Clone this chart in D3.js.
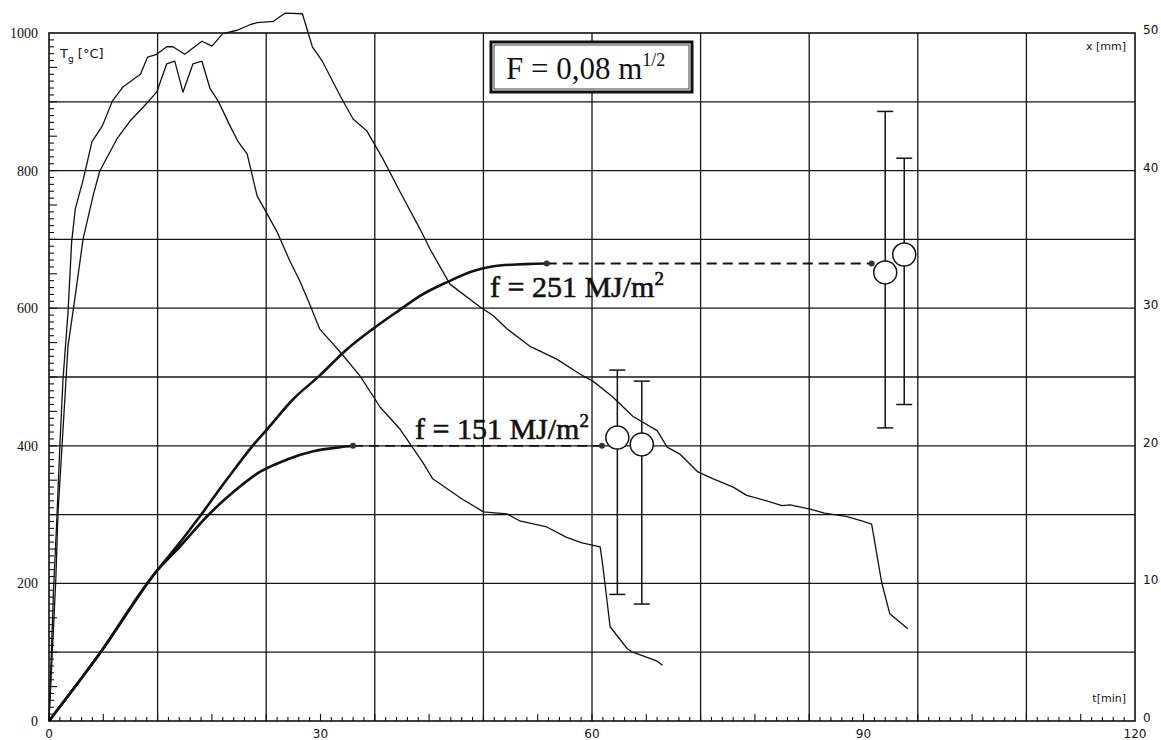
<!DOCTYPE html>
<html>
<head>
<meta charset="UTF-8">
<style>
  body { margin: 0; background: #fff; }
  svg { display: block; }
  .lbl-serif { font-family: "Liberation Serif", "DejaVu Serif", serif; fill: #111; }
  .lbl-sans { font-family: "DejaVu Sans", "Liberation Sans", sans-serif; fill: #111; }
</style>
</head>
<body>
<svg></svg>
<script src="https://d3js.org/d3.v7.min.js"></script>
<script>

const width = 1161, height = 740;

// gas temperature curves [t min, T degC]
const gasLong = [[0,0],[0.5,190],[0.88,298],[1.2,400],[1.55,497],[2.1,594],[2.5,696],[2.9,744],[3.8,788],[4.75,842],[5.9,865],[7.0,901],[8.2,922],[10.1,940],[10.9,965],[11.9,969],[13.0,980],[13.7,980],[15.0,969],[16.9,988],[18.0,981],[19.2,999],[20.8,1004],[22.2,1012],[23.0,1015],[24.8,1017],[26.1,1029],[28.0,1028],[29.1,980],[30.2,959],[32.2,908],[33.6,875],[35.1,858],[36.9,817],[38.8,769],[41.0,715],[42.1,686],[44.3,635],[47.6,602],[49.1,589],[50.6,570],[53.1,545],[56.1,526],[58.7,504],[60.1,494],[62.3,471],[64.5,443],[67.2,422],[68.3,398],[69.7,388],[71.7,362],[73.4,352],[75.6,340],[77.1,328],[79.3,320],[81.0,313],[81.9,314],[84.1,308],[85.7,302],[88.2,297],[89.8,291],[90.9,286],[92.0,202],[92.9,156],[94.9,134]];
const gasShort = [[0,0],[0.75,205],[1.0,304],[1.44,400],[1.77,472],[2.1,545],[2.9,618],[3.76,700],[4.86,763],[5.6,799],[7.5,846],[8.95,872],[10.4,892],[11.9,914],[13.0,955],[13.9,959],[14.8,914],[15.9,955],[16.9,959],[17.8,919],[18.7,901],[20.0,865],[20.9,842],[21.9,824],[23.0,763],[23.6,749],[25.2,711],[25.9,690],[26.6,669],[27.7,640],[28.8,606],[29.9,570],[32.2,536],[34.4,501],[36.6,456],[38.8,424],[41.3,376],[42.4,352],[45.6,323],[48.0,304],[50.6,301],[52.0,291],[55.0,282],[57.2,267],[58.9,259],[60.9,253],[61.2,225],[62.0,137],[63.9,105],[64.5,100],[67.2,87],[67.8,81]];

// char depth curves [t min, x mm]
const char251 = [[0,0],[5.6,4.9],[11.9,10.9],[14.5,13.0],[16.7,14.9],[19.7,17.6],[22.5,20.0],[24.1,21.2],[27.0,23.4],[29.9,25.1],[32.9,27.0],[35.8,28.5],[38.8,29.9],[41.0,30.9],[44.0,31.9],[46.9,32.7],[49.8,33.1],[55.0,33.25]];
const char151 = [[0,0],[5.6,4.9],[11.9,10.9],[14.5,12.7],[17.5,14.9],[20.3,16.6],[23.3,18.1],[26.3,19.0],[29.2,19.6],[32.2,19.9],[33.6,20.0]];
const dash251 = [[55.0,33.25],[90.9,33.25]];
const dash151 = [[33.6,20.0],[61.1,20.0]];

// measured char depths with ranges
const measTime  = [92.4, 94.5, 62.8, 65.5];
const measDepth = [32.6, 33.9, 20.6, 20.1];
const measLow   = [21.3, 23.0, 9.2, 8.5];
const measHigh  = [44.3, 40.9, 25.5, 24.7];

const tTickLabels = [0, 30, 60, 90, 120];
const tempTickLabels = [0, 200, 400, 600, 800, 1000];
const depthTickLabels = [0, 10, 20, 30, 40, 50];

const svg = d3.select("svg").attr("width", width).attr("height", height);
svg.append("rect").attr("width", width).attr("height", height).attr("fill", "#fff");

const x = d3.scaleLinear().domain([0, 120]).range([49, 1135]);
const yT = d3.scaleLinear().domain([0, 1000]).range([721, 33]);
const yX = d3.scaleLinear().domain([0, 50]).range([721, 33]);

// grid
const grid = svg.append("g").attr("stroke", "#151515").attr("stroke-width", 1.3);
grid.selectAll("line.v").data(d3.range(12, 120, 12)).join("line")
    .attr("x1", d => x(d)).attr("x2", d => x(d))
    .attr("y1", yT(0)).attr("y2", yT(1000));
grid.selectAll("line.h").data(d3.range(100, 1000, 100)).join("line")
    .attr("x1", x(0)).attr("x2", x(120))
    .attr("y1", d => yT(d)).attr("y2", d => yT(d));

// frame
svg.append("rect")
    .attr("x", x(0)).attr("y", yT(1000))
    .attr("width", x(120) - x(0)).attr("height", yT(0) - yT(1000))
    .attr("fill", "none").attr("stroke", "#111").attr("stroke-width", 1.6);

// minor ticks
const ticks = svg.append("g").attr("stroke", "#111").attr("stroke-width", 1.1);
ticks.selectAll("line.tx").data(d3.range(1, 100)).join("line")
    .attr("x1", i => x(i * 1.2)).attr("x2", i => x(i * 1.2))
    .attr("y1", yT(0)).attr("y2", i => yT(0) - (i % 5 === 0 ? 7 : 4));
ticks.selectAll("line.ty").data(d3.range(1, 100)).join("line")
    .attr("x1", x(0)).attr("x2", i => x(0) + (i % 5 === 0 ? 8 : 5))
    .attr("y1", i => yT(i * 10)).attr("y2", i => yT(i * 10));

// tick labels
svg.append("g").selectAll("text").data(tempTickLabels).join("text")
    .attr("class", "lbl-serif")
    .attr("x", 38).attr("y", d => yT(d) + 5)
    .attr("text-anchor", "end").attr("font-size", 14)
    .text(d => d);
svg.append("g").selectAll("text").data(depthTickLabels).join("text")
    .attr("class", "lbl-sans")
    .attr("x", 1143).attr("y", d => yX(d) + 1)
    .attr("font-size", 12)
    .text(d => d);
svg.append("g").selectAll("text").data(tTickLabels).join("text")
    .attr("class", "lbl-sans")
    .attr("x", d => x(d)).attr("y", 738)
    .attr("text-anchor", "middle").attr("font-size", 12)
    .text(d => d);

// axis titles
const tg = svg.append("text").attr("class", "lbl-sans").attr("x", 60).attr("y", 58).attr("font-size", 13);
tg.append("tspan").text("T");
tg.append("tspan").attr("font-size", 9).attr("dy", 4).text("g");
tg.append("tspan").attr("dy", -4).text(" [°C]");
svg.append("text").attr("class", "lbl-sans").attr("x", 1126).attr("y", 50)
    .attr("text-anchor", "end").attr("font-size", 11).text("x [mm]");
svg.append("text").attr("class", "lbl-sans").attr("x", 1126).attr("y", 702)
    .attr("text-anchor", "end").attr("font-size", 11).text("t[min]");

// gas temperature
const lineT = d3.line().x(d => x(d[0])).y(d => yT(d[1]));
[gasLong, gasShort].forEach(data => {
  svg.append("path").datum(data).attr("d", lineT)
      .attr("fill", "none").attr("stroke", "#111").attr("stroke-width", 1.3)
      .attr("stroke-linejoin", "round");
});

// char depth
const lineX = d3.line().x(d => x(d[0])).y(d => yX(d[1])).curve(d3.curveMonotoneX);
[char251, char151].forEach(data => {
  svg.append("path").datum(data).attr("d", lineX)
      .attr("fill", "none").attr("stroke", "#111").attr("stroke-width", 2.6);
});
[dash251, dash151].forEach(data => {
  svg.append("path").datum(data).attr("d", d3.line().x(d => x(d[0])).y(d => yX(d[1])))
      .attr("fill", "none").attr("stroke", "#111").attr("stroke-width", 1.8)
      .attr("stroke-dasharray", "10,6");
  svg.selectAll(null).data(data).join("circle")
      .attr("cx", d => x(d[0])).attr("cy", d => yX(d[1])).attr("r", 3)
      .attr("fill", "#333");
});

// error bars + circles
const meas = svg.append("g").attr("stroke", "#111").attr("stroke-width", 1.5);
measTime.forEach((t, i) => {
  meas.append("line").attr("x1", x(t)).attr("x2", x(t))
      .attr("y1", yX(measLow[i])).attr("y2", yX(measHigh[i]));
  [measLow[i], measHigh[i]].forEach(v => {
    meas.append("line").attr("x1", x(t) - 8).attr("x2", x(t) + 8)
        .attr("y1", yX(v)).attr("y2", yX(v));
  });
  meas.append("circle").attr("cx", x(t)).attr("cy", yX(measDepth[i]))
      .attr("r", 11.5).attr("fill", "#fff");
});

// curve labels
function fireLabel(xp, yp, num) {
  const t = svg.append("text").attr("class", "lbl-serif")
      .attr("x", xp).attr("y", yp).attr("font-size", 30)
      .attr("stroke", "#111").attr("stroke-width", 0.6);
  t.append("tspan").text("f = " + num + " MJ/m");
  t.append("tspan").attr("font-size", 19).attr("dy", -12).text("2");
}
fireLabel(490, 297, 251);
fireLabel(415, 439, 151);

// F box
svg.append("rect").attr("x", 491).attr("y", 42).attr("width", 201).attr("height", 50)
    .attr("fill", "#fff").attr("stroke", "#111").attr("stroke-width", 3);
svg.append("rect").attr("x", 494).attr("y", 45).attr("width", 195).attr("height", 44)
    .attr("fill", "none").attr("stroke", "#111").attr("stroke-width", 0.8);
const fTxt = svg.append("text").attr("class", "lbl-serif")
    .attr("x", 506).attr("y", 79).attr("font-size", 31);
fTxt.append("tspan").text("F = 0,08 m");
fTxt.append("tspan").attr("font-size", 18).attr("dy", -13).text("1/2");

</script>
</body>
</html>
